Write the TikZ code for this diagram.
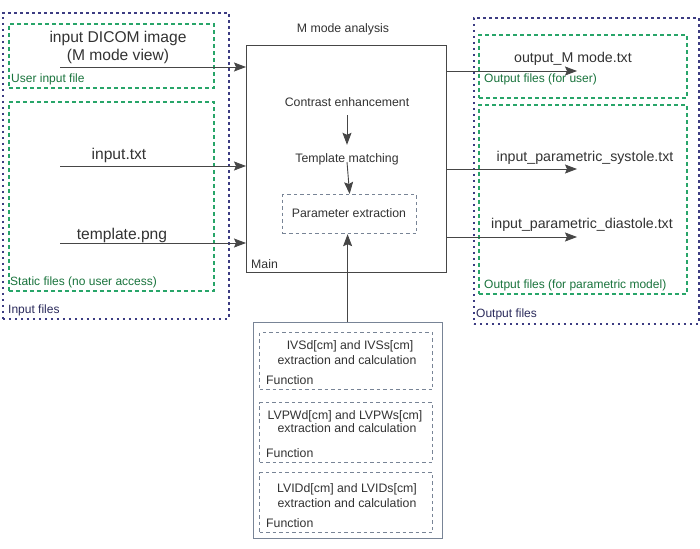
\documentclass[tikz,border=0pt]{standalone}
\usepackage{fontspec}
\setmainfont{Liberation Sans}
\usetikzlibrary{arrows.meta}
\definecolor{outerblue}{RGB}{60,60,130}
\definecolor{grndash}{RGB}{40,165,105}
\definecolor{grntext}{RGB}{25,115,60}
\definecolor{lineg}{RGB}{70,70,70}
\definecolor{boxg}{RGB}{120,132,150}
\definecolor{txtg}{RGB}{50,50,50}
\begin{document}
\begin{tikzpicture}[x=1pt,y=-1pt,
  outerbox/.style={draw=outerblue,line width=1.7pt,dash pattern=on 2.5pt off 3.5pt},
  grnbox/.style={draw=grndash,line width=1.6pt,dash pattern=on 4pt off 3pt},
  fnbox/.style={draw=boxg,line width=1.2pt,dash pattern=on 3.5pt off 3pt},
  arr/.style={draw=lineg,line width=0.9pt,-{Stealth[length=12pt,width=9pt,inset=2pt]}},
  big/.style={font=\fontsize{15.6}{18}\selectfont,text=txtg,inner sep=0pt},
  mid/.style={font=\fontsize{14.2}{17}\selectfont,text=txtg,inner sep=0pt},
  small/.style={font=\fontsize{12.3}{14}\selectfont,text=txtg,inner sep=0pt},
  glabel/.style={font=\fontsize{12}{14}\selectfont,text=grntext,inner sep=0pt,anchor=base west},
  blabel/.style={font=\fontsize{12}{14}\selectfont,text=outerblue!70!black,inner sep=0pt,anchor=base west}]
\useasboundingbox (0,0) rectangle (700,548);
% ---------- input files ----------
\node[outerbox,minimum width=226pt,minimum height=306pt,anchor=north west,inner sep=0pt] (inputs) at (2,12) {};
\node[grnbox,minimum width=205pt,minimum height=64pt,anchor=north west,inner sep=0pt] (userin) at (8,23) {};
\node[grnbox,minimum width=205pt,minimum height=189pt,anchor=north west,inner sep=0pt] (static) at (8,101) {};
\node[glabel] (userlbl) at (11,83) {User input file};
\node[glabel] (staticlbl) at (10,285) {Static files (no user access)};
\node[blabel] (inputlbl) at (8,313) {Input files};
\node[big,anchor=base] (dicom1) at (118,43) {input DICOM image};
\node[big,anchor=base] (dicom2) at (118,61) {(M mode view)};
\node[big,anchor=base] (inputtxt) at (119,160) {input.txt};
\node[big,anchor=base] (template) at (122,239) {template.png};
\coordinate (in1) at (60,67);
\coordinate (in2) at (60,166);
\coordinate (in3) at (60,243);
% ---------- main ----------
\node[draw=lineg,line width=0.9pt,minimum width=200pt,minimum height=227pt,anchor=north west,inner sep=0pt] (main) at (246,45) {};
\node[small,anchor=base] (mtitle) at (343,33) {M mode analysis};
\node[small,anchor=base west] (mainlbl) at (251,268) {Main};
\node[small,anchor=base,text height=9pt,text depth=3pt,inner ysep=5pt] (contrast) at (347,107) {Contrast enhancement};
\node[small,anchor=base,text height=9pt,text depth=3pt,inner ysep=8pt] (tmatch) at (347,162) {Template matching};
\node[fnbox,minimum width=134pt,minimum height=39pt,anchor=north west,inner sep=0pt] (param) at (282,194) {};
\node[small] (paramtxt) at (349,213) {Parameter extraction};
\draw[arr] (contrast.south) -- (tmatch.north);
\draw[arr] (tmatch.base) -- (param.north);
\draw[arr] (in1) -- (in1 -| main.west);
\draw[arr] (in2) -- (in2 -| main.west);
\draw[arr] (in3) -- (in3 -| main.west);
% ---------- output files ----------
\node[outerbox,minimum width=225pt,minimum height=306pt,anchor=north west,inner sep=0pt] (outputs) at (473,17) {};
\node[grnbox,minimum width=208pt,minimum height=63pt,anchor=north west,inner sep=0pt] (outuser) at (478,34) {};
\node[grnbox,minimum width=208pt,minimum height=189pt,anchor=north west,inner sep=0pt] (outparam) at (478,104) {};
\node[glabel] (outuserlbl) at (484,83) {Output files (for user)};
\node[glabel] (outparamlbl) at (484,288) {Output files (for parametric model)};
\node[blabel] (outlbl) at (476,317) {Output files};
\node[mid,anchor=base] (o1) at (573,63) {output\_M mode.txt};
\node[mid,anchor=base] (o2) at (585,161) {input\_parametric\_systole.txt};
\node[mid,anchor=base] (o3) at (582,228) {input\_parametric\_diastole.txt};
\coordinate (out1) at (577,71);
\coordinate (out2) at (577,169);
\coordinate (out3) at (577,237);
\draw[arr] (out1 -| main.east) -- (out1);
\draw[arr] (out2 -| main.east) -- (out2);
\draw[arr] (out3 -| main.east) -- (out3);
% ---------- functions ----------
\node[draw=boxg,line width=1pt,minimum width=189pt,minimum height=216pt,anchor=north west,inner sep=0pt] (funcs) at (253,322) {};
\node[fnbox,minimum width=173pt,minimum height=57pt,anchor=north west,inner sep=0pt] (f1) at (259,332) {};
\node[fnbox,minimum width=173pt,minimum height=60pt,anchor=north west,inner sep=0pt] (f2) at (259,402) {};
\node[fnbox,minimum width=173pt,minimum height=60pt,anchor=north west,inner sep=0pt] (f3) at (259,472) {};
\node[small,anchor=base] (f1a) at (350,349) {IVSd[cm] and IVSs[cm]};
\node[small,anchor=base] (f1b) at (347,364) {extraction and calculation};
\node[small,anchor=base west] (f1c) at (266,384) {Function};
\node[small,anchor=base] (f2a) at (345,419) {LVPWd[cm] and LVPWs[cm]};
\node[small,anchor=base] (f2b) at (347,432) {extraction and calculation};
\node[small,anchor=base west] (f2c) at (266,457) {Function};
\node[small,anchor=base] (f3a) at (347,492) {LVIDd[cm] and LVIDs[cm]};
\node[small,anchor=base] (f3b) at (347,507) {extraction and calculation};
\node[small,anchor=base west] (f3c) at (266,527) {Function};
\draw[arr] (funcs.north -| param.south) ++(-2,0) coordinate (fup) -- (fup |- param.south);
\end{tikzpicture}
\end{document}
